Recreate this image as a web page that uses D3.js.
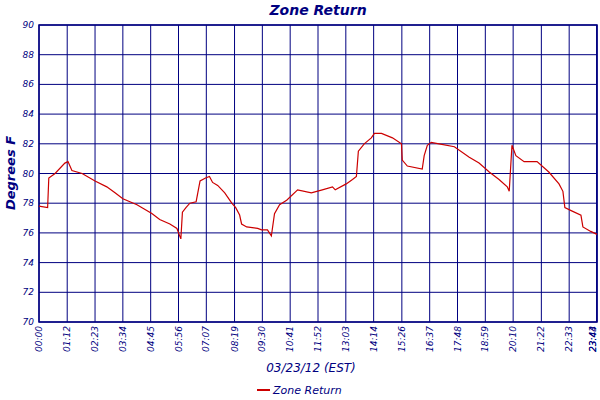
<!DOCTYPE html>
<html><head><meta charset="utf-8">
<script src="https://cdn.jsdelivr.net/npm/d3@7"></script>
<style>body{margin:0;background:#fff}text{font-family:"DejaVu Sans",sans-serif;font-style:italic;fill:#000080}</style>
</head><body><svg id="c" width="600" height="400"></svg>
<script>
const times=[0,22,25,41,66,74,84,110,143,173,194,214,250,288,308,334,352,359,362,366,375,385,401,411,425,435,443,456,474,492,502,512,517,530,558,568,583,593,601,614,632,660,695,723,749,756,784,800,810,815,830,848,856,874,902,925,927,940,978,983,991,1001,1021,1060,1098,1123,1149,1174,1195,1200,1207,1217,1238,1271,1301,1327,1337,1342,1358,1383,1388,1408,1424];
const values=[77.8,77.7,79.7,80.0,80.7,80.8,80.2,80.0,79.5,79.1,78.7,78.3,77.9,77.3,76.9,76.6,76.3,75.8,75.6,77.4,77.7,78.0,78.1,79.5,79.7,79.8,79.4,79.2,78.7,78.0,77.7,77.2,76.6,76.4,76.3,76.2,76.2,75.8,77.3,77.9,78.2,78.9,78.7,78.9,79.1,78.9,79.3,79.6,79.8,81.5,82.0,82.4,82.7,82.7,82.4,82.0,80.9,80.5,80.3,81.2,81.9,82.1,82.0,81.8,81.1,80.7,80.1,79.6,79.1,78.8,81.9,81.2,80.8,80.8,80.1,79.3,78.8,77.7,77.5,77.2,76.4,76.1,75.9];
const tickMinutes=[0,72,143,214,285,356,427,499,570,641,712,783,854,926,997,1068,1139,1210,1282,1353,1423,1424];
const tickLabels=["00:00","01:12","02:23","03:34","04:45","05:56","07:07","08:19","09:30","10:41","11:52","13:03","14:14","15:26","16:37","17:48","18:59","20:10","21:22","22:33","23:43","23:44"];
const yTicks=[70,72,74,76,78,80,82,84,86,88,90];
const svg=d3.select("#c");
const L=39,R=597,T=25,B=322;
const x=d3.scaleLinear().domain([0,1424]).range([L,R]);
const y=d3.scaleLinear().domain([70,90]).range([B,T]);
const navy="#000080";
svg.append("g").selectAll("line").data(yTicks).join("line").attr("x1",L).attr("x2",R).attr("y1",d=>y(d)).attr("y2",d=>y(d)).attr("stroke",navy).attr("stroke-width",1);
svg.append("g").selectAll("line").data(tickMinutes).join("line").attr("x1",d=>x(d)).attr("x2",d=>x(d)).attr("y1",T).attr("y2",B).attr("stroke",navy).attr("stroke-width",1);
svg.append("rect").attr("x",L).attr("y",T).attr("width",R-L).attr("height",B-T).attr("fill","none").attr("stroke",navy).attr("stroke-width",1.5);
svg.append("g").selectAll("text").data(yTicks).join("text").attr("x",L-5).attr("y",d=>y(d)+3).attr("text-anchor","end").attr("font-size",9).text(d=>d);
svg.append("g").selectAll("text").data(tickMinutes).join("text").attr("transform",(d,i)=>`translate(${Math.min(x(d)+3,596)},${B+4}) rotate(-90)`).attr("text-anchor","end").attr("font-size",9).text((d,i)=>tickLabels[i]);
const pts=times.map((t,i)=>[t,values[i]]);
svg.append("path").datum(pts).attr("fill","none").attr("stroke","#cc0000").attr("stroke-width",1.2)
 .attr("d",d3.line().x(d=>x(d[0])).y(d=>y(d[1])));
svg.append("text").attr("x",318).attr("y",15).attr("text-anchor","middle").attr("font-size",14).attr("font-weight","bold").attr("font-family","DejaVu Serif").text("Zone Return");
svg.append("text").attr("transform","translate(15,173) rotate(-90)").attr("text-anchor","middle").attr("font-size",13).attr("font-weight","bold").attr("font-family","DejaVu Serif").text("Degrees F");
svg.append("text").attr("x",311).attr("y",372).attr("text-anchor","middle").attr("font-size",12).text("03/23/12 (EST)");
svg.append("line").attr("x1",257).attr("x2",270).attr("y1",390).attr("y2",390).attr("stroke","#cc0000").attr("stroke-width",2);
svg.append("text").attr("x",273).attr("y",394).attr("font-size",11).text("Zone Return");
</script></body></html>
